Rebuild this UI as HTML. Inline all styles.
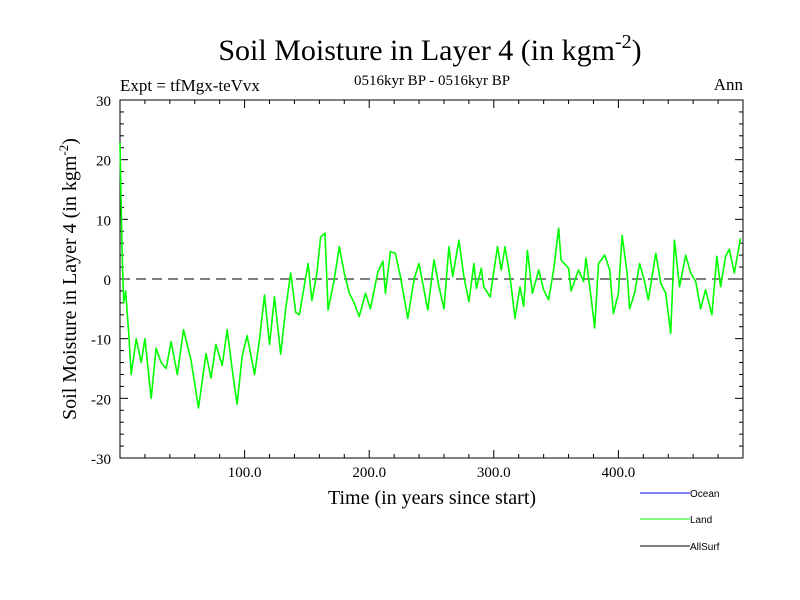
<!DOCTYPE html>
<html><head><meta charset="utf-8"><style>
html,body{margin:0;padding:0;background:#fff;}
svg{display:block;font-family:"Liberation Serif",serif;}
</style></head><body>
<svg id="chart" width="800" height="600">
<text x="430" y="60" font-size="30" text-anchor="middle">Soil Moisture in Layer 4 (in kgm<tspan dy="-12" font-size="20">-2</tspan><tspan dy="12">)</tspan></text>
<text x="120" y="91" font-size="17">Expt = tfMgx-teVvx</text>
<text x="432" y="85" font-size="15" text-anchor="middle">0516kyr BP - 0516kyr BP</text>
<text x="743" y="90" font-size="17" text-anchor="end">Ann</text>
<text x="432" y="504" font-size="20" text-anchor="middle">Time (in years since start)</text>
<text transform="translate(76,279) rotate(-90)" font-size="20" text-anchor="middle">Soil Moisture in Layer 4 (in kgm<tspan dy="-8" font-size="13">-2</tspan><tspan dy="8">)</tspan></text>
<g id="axes"></g>
<g id="series"></g>
<g font-family="Liberation Sans, sans-serif" font-size="10">
<line x1="640" y1="493" x2="690" y2="493" stroke="#0000ff" stroke-width="1"/>
<text x="690" y="497">Ocean</text>
<line x1="640" y1="519" x2="690" y2="519" stroke="#00ff00" stroke-width="1"/>
<text x="690" y="523">Land</text>
<line x1="640" y1="546" x2="690" y2="546" stroke="#000" stroke-width="1"/>
<text x="690" y="550">AllSurf</text>
</g>
</svg>
<script>
const years=[0,1,2,3,4.5,7,9,13,17,20,25,29,33,37,41,46,51,57,63,69,73,77,82,86,90,94,98,102,108,112,116,120,124,129,133,137,141,144,148,151,154,158,161,164.5,167,172,176,180,184,188,192,197,201,207,211,213,217,221,225,231,236,240,247,252,256,260,264,267,272,276,280,284,286,290,292,297,303,306,309,313,317,321,324,327,331,336,340,344,348,352,354,360,362,368,372,374,378,381,384,389,393,396,400,403,407,409,413,417,421,424,430,434,438,442,445,449,454,458,462,466,470,475,479,482,486,489,493,498];
const landValues=[22.8,12,2,-4,-2,-9,-16,-10,-14,-10,-20,-11.6,-14,-15,-10.5,-16,-8.5,-13.6,-21.6,-12.5,-16.6,-11,-14.5,-8.5,-15,-21,-13,-9.5,-16,-10,-2.7,-11,-3,-12.6,-5,1,-5.6,-6,-1,2.6,-3.6,1,7,7.7,-5.2,0,5.4,1,-2.4,-4,-6.3,-2.4,-5,1.2,3,-2.4,4.6,4.3,0.4,-6.6,0,2.6,-5.2,3.2,-1.3,-5,5.4,0.4,6.5,0.4,-3.8,2.6,-1.6,1.8,-1.3,-3,5.4,1.5,5.4,0.4,-6.6,-1.3,-4.6,4.8,-2.4,1.5,-1.8,-3.5,1.5,8.5,3.2,1.8,-2,1.5,-0.4,3.5,-3,-8.2,2.6,4,1.5,-5.8,-2.4,7.3,1,-5,-2.4,2.6,-0.4,-3.5,4.3,-0.7,-2.4,-9.1,6.5,-1.3,4,1,-0.4,-5,-1.8,-6,3.8,-1.3,3.8,5,1,6.8];
const yTickLabels=["-30","-20","-10","0","10","20","30"];
const xTickLabels=["100.0","200.0","300.0","400.0"];
const L=120,R=743,T=100,B=458;
const X0=0,X1=500,Y0=-30,Y1=30;
function sx(v){return L+(v-X0)/(X1-X0)*(R-L);}
function sy(v){return B-(v-Y0)/(Y1-Y0)*(B-T);}
const NS="http://www.w3.org/2000/svg";
function mk(t,a,p){const e=document.createElementNS(NS,t);for(const k in a)e.setAttribute(k,a[k]);p.appendChild(e);return e;}
const ax=document.getElementById('axes');
const frame=mk('rect',{x:L,y:T,width:R-L,height:B-T,fill:'none',stroke:'#000','stroke-width':1},ax);


for(let v=-30;v<=30;v+=2){const y=sy(v);const len=(v%10===0)?8:4;
 const t1=mk('line',{x1:L,y1:y,x2:L+len,y2:y,stroke:'#000'},ax);
 
 
 const t2=mk('line',{x1:R,y1:y,x2:R-len,y2:y,stroke:'#000'},ax);
 
 }
for(let v=20;v<500;v+=20){const x=sx(v);const len=(v%100===0)?8:4;
 const t1=mk('line',{x1:x,y1:B,x2:x,y2:B-len,stroke:'#000'},ax);
 
 
 const t2=mk('line',{x1:x,y1:T,x2:x,y2:T+len,stroke:'#000'},ax);
 
 }
yTickLabels.forEach(s=>{const t=mk('text',{x:L-9,y:sy(+s)+6,'font-size':15,'text-anchor':'end'},ax);t.textContent=s;
 
 });
xTickLabels.forEach(s=>{const t=mk('text',{x:sx(+s),y:477,'font-size':15,'text-anchor':'middle'},ax);t.textContent=s;
 
 });
const zl=mk('line',{x1:L,y1:sy(0),x2:R,y2:sy(0),stroke:'#333','stroke-dasharray':'10,6','stroke-width':1.2},ax);


const sg=document.getElementById('series');
const pts=years.map((y,i)=>sx(y).toFixed(1)+','+sy(landValues[i]).toFixed(1)).join(' ');
const pl=mk('polyline',{points:pts,fill:'none',stroke:'#00ff00','stroke-width':1.6,'stroke-linejoin':'round'},sg);


</script>
</body></html>
